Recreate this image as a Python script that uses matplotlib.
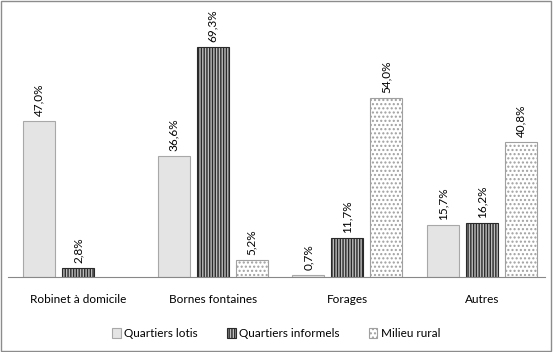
import matplotlib
matplotlib.use("Agg")
import matplotlib.pyplot as plt
from matplotlib.patches import Rectangle
import numpy as np

plt.rcParams["font.family"] = ["Lato", "DejaVu Sans"]
plt.rcParams["hatch.linewidth"] = 1.0

categories = ["Robinet à domicile", "Bornes fontaines", "Forages", "Autres"]
series = ["Quartiers lotis", "Quartiers informels", "Milieu rural"]
lotis = [47.0, 36.6, 0.7, 15.7]
informels = [2.8, 69.3, 11.7, 16.2]
rural = [None, 5.2, 54.0, 40.8]

values = [lotis, informels, rural]
faces = ["#e4e4e4", "#bdbdbd", "#ffffff"]
edges = ["#a8a8a8", "#2a2a2a", "#a0a0a0"]
hatches = [None, "||||||", "...."]

fig = plt.figure(figsize=(5.53, 3.52), dpi=100)
ax = fig.add_axes([8 / 553, 1 - 277 / 352, 537 / 553, 267 / 352])

x = np.arange(len(categories))
w = 0.238
offs = [-0.29, 0.0, 0.29]
for vals, face, edge, hatch, off, name in zip(values, faces, edges, hatches, offs, series):
    xs = [xi + off for xi, v in zip(x, vals) if v is not None]
    vs = [v for v in vals if v is not None]
    bars = ax.bar(xs, vs, w, color=face, edgecolor=edge, hatch=hatch, linewidth=0.8, label=name)
    for b, v in zip(bars, vs):
        ax.text(b.get_x() + b.get_width() / 2, v + 1.5, f"{v:.1f}%".replace(".", ","),
                rotation=90, ha="center", va="bottom", fontsize=8.5)

ax.set_xlim(-0.52, 3.47)
ax.set_ylim(0, 80.5)
ax.set_yticks([])
ax.set_xticks(x)
ax.set_xticklabels(categories, fontsize=8.5)
ax.tick_params(axis="x", length=0, pad=12)
for s in ["top", "left", "right"]:
    ax.spines[s].set_visible(False)
ax.spines["bottom"].set_color("#888888")

ax.legend(loc="upper center", bbox_to_anchor=(0.5, -0.15), ncol=3, frameon=False,
          fontsize=8.5, handlelength=0.7, handleheight=0.9, columnspacing=2.5, handletextpad=0.3)

fig.patches.append(Rectangle((0.002, 0.003), 0.995, 0.994, transform=fig.transFigure,
                             fill=False, edgecolor="#8c8c8c", linewidth=1))

fig.savefig("out.png", dpi=100)
